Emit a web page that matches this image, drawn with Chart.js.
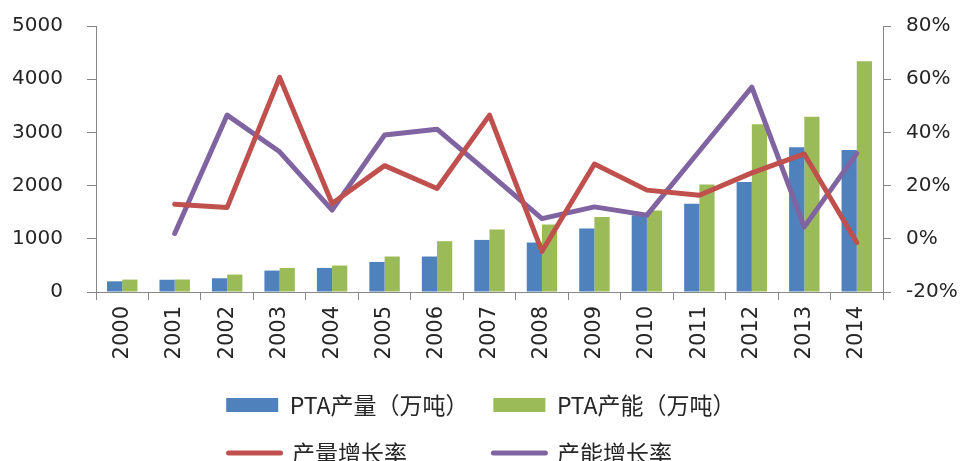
<!DOCTYPE html>
<html>
<head>
<meta charset="utf-8">
<script src="https://cdn.jsdelivr.net/npm/chart.js@4/dist/chart.umd.min.js"></script>
<style>
  html, body { margin: 0; padding: 0; background: #ffffff; }
  #wrap { width: 963px; height: 461px; }
</style>
</head>
<body>
<div id="wrap"><canvas id="c" width="963" height="461"></canvas></div>
<script>
// ---- data ----
const years = ['2000','2001','2002','2003','2004','2005','2006','2007','2008','2009','2010','2011','2012','2013','2014'];
const ptaOutput   = [201, 230, 258, 403, 452, 565, 667, 979, 930, 1194, 1444, 1657, 2066, 2719, 2669];
const ptaCapacity = [233, 235, 328, 452, 497, 667, 955, 1175, 1269, 1412, 1533, 2022, 3152, 3296, 4339];
const outputGrowth   = [null, 13.0, 11.8, 60.7, 13.3, 27.5, 18.9, 46.5, -4.7, 28.1, 18.3, 16.4, 24.8, 31.9, -1.4];
const capacityGrowth = [null, 2.0, 46.5, 32.7, 10.8, 39.0, 41.2, 24.5, 7.6, 12.0, 8.9, 33.0, 57.0, 4.5, 32.1];
const leftTicks = [0, 1000, 2000, 3000, 4000, 5000];
const rightTicks = [-20, 0, 20, 40, 60, 80];
const seriesNames = ['PTA产量（万吨）', 'PTA产能（万吨）', '产量增长率', '产能增长率'];

const axisColor = '#868686';
const textColor = '#262626';
const tickFont = { family: "'DejaVu Sans', sans-serif", size: 20 };

// trailing blank space used only to line legend columns up (two rows of two)
const rowPad = ['', '\u2002\u2005', '\u3000\u3000\u2002\u2006', '\u3000\u3000\u2002\u2006\u2002\u2005'];

const ctx = document.getElementById('c').getContext('2d');
new Chart(ctx, {
  type: 'bar',
  data: {
    labels: years,
    datasets: [
      { type: 'bar', label: seriesNames[0], data: ptaOutput, backgroundColor: '#4F81BD', yAxisID: 'y', order: 2,
        categoryPercentage: 0.58, barPercentage: 1.0 },
      { type: 'bar', label: seriesNames[1], data: ptaCapacity, backgroundColor: '#9BBB59', yAxisID: 'y', order: 2,
        categoryPercentage: 0.58, barPercentage: 1.0 },
      { type: 'line', label: seriesNames[2], data: outputGrowth, borderColor: '#C0504D', backgroundColor: '#C0504D',
        borderWidth: 5, pointRadius: 0, pointHoverRadius: 0, yAxisID: 'y1', order: 1,
        borderCapStyle: 'round', borderJoinStyle: 'round', tension: 0 },
      { type: 'line', label: seriesNames[3], data: capacityGrowth, borderColor: '#8064A2', backgroundColor: '#8064A2',
        borderWidth: 5, pointRadius: 0, pointHoverRadius: 0, yAxisID: 'y1', order: 1,
        borderCapStyle: 'round', borderJoinStyle: 'round', tension: 0 }
    ]
  },
  options: {
    responsive: false,
    devicePixelRatio: 1,
    animation: false,
    layout: { padding: { top: 26, bottom: -13.5, left: 0, right: 0 } },
    plugins: {
      tooltip: { enabled: false },
      legend: {
        position: 'bottom',
        fullSize: false,
        labels: {
          color: textColor,
          font: { family: "'Noto Sans CJK SC', sans-serif", size: 23 },
          usePointStyle: true,
          pointStyleWidth: 52,
          boxHeight: 14,
          padding: 25,
          generateLabels(chart) {
            const items = Chart.defaults.plugins.legend.labels.generateLabels(chart);
            items.forEach(it => {
              const ds = chart.data.datasets[it.datasetIndex];
              it.text = ds.label + rowPad[it.datasetIndex];
              if (ds.type === 'line') {
                it.pointStyle = 'line';
                it.strokeStyle = ds.borderColor;
                it.fillStyle = ds.borderColor;
                it.lineWidth = 5;
                it.lineCap = 'round';
              } else {
                it.pointStyle = 'rect';
                it.fillStyle = ds.backgroundColor;
                it.lineWidth = 0;
              }
            });
            return items.sort((a, b) => a.datasetIndex - b.datasetIndex);
          }
        }
      }
    },
    scales: {
      x: {
        offset: true,
        grid: { display: true, offset: true, drawOnChartArea: false, drawTicks: true, tickLength: 8, color: axisColor },
        border: { display: true, color: axisColor, width: 1 },
        ticks: { color: textColor, font: { family: "'DejaVu Sans', sans-serif", size: 21 },
                 minRotation: 90, maxRotation: 90, autoSkip: false, padding: 6 },
        afterFit(s) { s.height = 76.5; s.paddingLeft = 0; s.paddingRight = 0; }
      },
      y: {
        position: 'left',
        min: leftTicks[0], max: leftTicks[leftTicks.length - 1],
        afterBuildTicks(s) { s.ticks = leftTicks.map(v => ({ value: v })); },
        grid: { drawOnChartArea: false, drawTicks: true, tickLength: 9, color: axisColor },
        border: { display: true, color: axisColor, width: 1 },
        ticks: { color: textColor, font: tickFont, padding: 24, callback: v => String(v) },
        afterFit(s) { s.width = 96; s.paddingTop = 0; s.paddingBottom = 0; }
      },
      y1: {
        position: 'right',
        min: rightTicks[0], max: rightTicks[rightTicks.length - 1],
        afterBuildTicks(s) { s.ticks = rightTicks.map(v => ({ value: v })); },
        grid: { drawOnChartArea: false, drawTicks: true, tickLength: 8, color: axisColor },
        border: { display: true, color: axisColor, width: 1 },
        ticks: { color: textColor, font: tickFont, padding: 15, callback: v => v + '%' },
        afterFit(s) { s.width = 80; s.paddingTop = 0; s.paddingBottom = 0; }
      }
    }
  }
});
</script>
</body>
</html>
